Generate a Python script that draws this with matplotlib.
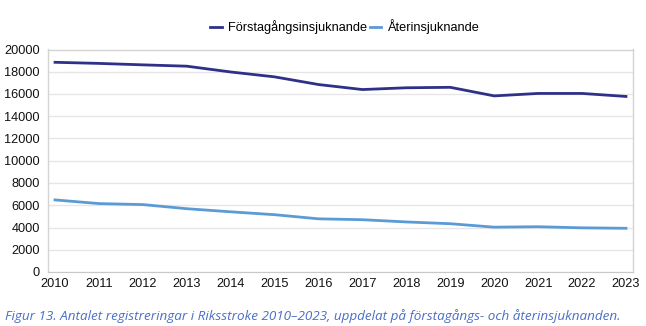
import matplotlib
matplotlib.use("Agg")
import matplotlib.pyplot as plt

years = [2010, 2011, 2012, 2013, 2014, 2015, 2016, 2017, 2018, 2019, 2020, 2021, 2022, 2023]
forstagangs = [18850, 18750, 18620, 18500, 17980, 17540, 16850, 16400, 16560, 16600, 15830, 16050, 16050, 15780]
aterinsjuknande = [6480, 6150, 6060, 5690, 5410, 5150, 4780, 4700, 4500, 4340, 4030, 4070, 3970, 3930]
series_names = ["Förstagångsinsjuknande", "Återinsjuknande"]
yticks = [0, 2000, 4000, 6000, 8000, 10000, 12000, 14000, 16000, 18000, 20000]
caption = "Figur 13. Antalet registreringar i Riksstroke 2010–2023, uppdelat på förstagångs- och återinsjuknanden."

plt.rcParams['font.family'] = ['Liberation Sans', 'DejaVu Sans']

fig = plt.figure(figsize=(6.46, 3.26), dpi=100)
W, H = 646, 326
left, right, top, bottom = 48, 633, 49.5, 272
ax = fig.add_axes([left / W, 1 - bottom / H, (right - left) / W, (bottom - top) / H])

ax.plot(years, forstagangs, color='#2e3187', lw=2.0, label=series_names[0])
ax.plot(years, aterinsjuknande, color='#5b9bd5', lw=2.0, label=series_names[1])

ax.set_xlim(2009.84, 2023.16)
ax.set_ylim(0, 20000)
ax.set_xticks(years)
ax.set_xticklabels([str(y) for y in years])
ax.set_yticks(yticks)
ax.set_yticklabels([str(v) for v in yticks])
ax.grid(axis='y', color='#e6e6e6', lw=1)
ax.set_axisbelow(True)
for s in ['top', 'right', 'left']:
    ax.spines[s].set_color('#d4d4d4')
    ax.spines[s].set_linewidth(1)
ax.spines['bottom'].set_color('#c8c8c8')
ax.tick_params(axis='both', length=0, labelsize=9.2, colors='#111111')
ax.tick_params(axis='x', pad=4)
ax.tick_params(axis='y', pad=6)

fig.legend(loc='center', bbox_to_anchor=(345 / W, 1 - 27 / H), ncol=2, frameon=False,
           fontsize=9.2, handlelength=0.9, columnspacing=0.2, handletextpad=0.5,
           borderpad=0.2)

fig.text(5 / W, 1 - 316 / H, caption, fontsize=9.7, style='italic', color='#4a6fc4',
         family=['Open Sans', 'DejaVu Sans'], va='center', ha='left')

fig.savefig('out.png', dpi=100)
